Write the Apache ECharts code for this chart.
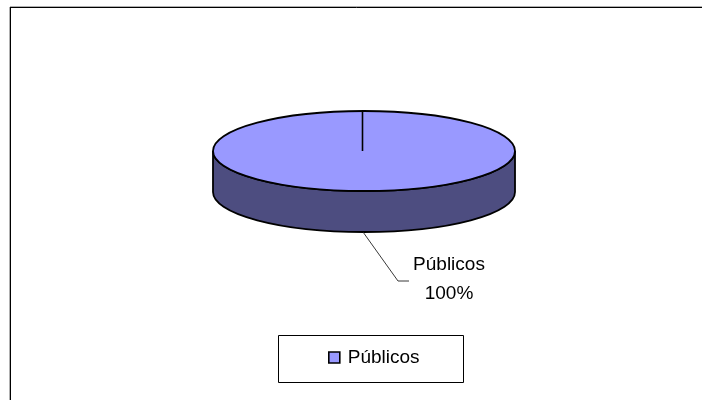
<!DOCTYPE html>
<html><head><meta charset="utf-8">
<style>html,body{margin:0;padding:0;background:#fff}#c{width:702px;height:400px}</style>
<script src="https://cdn.jsdelivr.net/npm/echarts@6/dist/echarts.min.js"></script>
</head><body><div id="c"></div>
<script>
const categories = ['Públicos'];
const values = [100];
const sliceColors = ['#9999ff'];
const sideColors = ['#4d4d80'];
const FONT = '"Liberation Sans", Arial, sans-serif';
const total = values.reduce((a, b) => a + b, 0);
const chart = echarts.init(document.getElementById('c'), null, {renderer: 'canvas'});
const cx = 364, cy = 151, rx = 151, ry = 40, depth = 41;

const sidePath = `M${cx - rx} ${cy}L${cx - rx} ${cy + depth}A${rx} ${ry} 0 0 0 ${cx + rx} ${cy + depth}L${cx + rx} ${cy}A${rx} ${ry} 0 0 1 ${cx - rx} ${cy}Z`;
const topPath = `M${cx - rx} ${cy}A${rx} ${ry} 0 0 1 ${cx + rx} ${cy}A${rx} ${ry} 0 0 1 ${cx - rx} ${cy}Z`;

chart.setOption({
  animation: false,
  backgroundColor: '#ffffff',
  legend: {
    left: 328, top: 348,
    padding: 0,
    itemWidth: 11, itemHeight: 11, itemGap: 6,
    icon: 'rect',
    data: categories.map((n, i) => ({name: n, itemStyle: {color: sliceColors[i], borderColor: '#000', borderWidth: 1.6}})),
    textStyle: {fontFamily: FONT, fontSize: 19, color: '#000', padding: [0, 0, 0, 3]}
  },
  graphic: [
    {type: 'line', silent: true, z: -1, shape: {x1: 10, y1: 6.5, x2: 702, y2: 6.5}, style: {stroke: '#b0b0b0', lineWidth: 1}},
    {type: 'line', silent: true, z: -1, shape: {x1: 10.5, y1: 7.5, x2: 702, y2: 7.5}, style: {stroke: '#000', lineWidth: 1}},
    {type: 'line', silent: true, z: -1, shape: {x1: 9.5, y1: 7, x2: 9.5, y2: 400}, style: {stroke: '#b0b0b0', lineWidth: 1}},
    {type: 'line', silent: true, z: -1, shape: {x1: 10.5, y1: 7, x2: 10.5, y2: 400}, style: {stroke: '#000', lineWidth: 1}},
    {type: 'rect', silent: true, z: -1, shape: {x: 278.5, y: 335.5, width: 185, height: 47}, style: {fill: '#fff', stroke: '#000', lineWidth: 1}}
  ],
  series: [{
    type: 'custom',
    name: categories[0],
    coordinateSystem: 'none',
    data: categories.map((n, i) => ({name: n, value: values[i], itemStyle: {color: sliceColors[i]}})),
    renderItem(params, api) {
      const i = params.dataIndex;
      const frac = api.value(0) / total;
      return {
        type: 'group',
        children: [
          {type: 'path', shape: {pathData: sidePath, layout: 'cover', x: cx - rx, y: cy, width: 2 * rx, height: ry + depth},
           style: {fill: sideColors[i], stroke: '#000', lineWidth: 1.8}},
          {type: 'path', shape: {pathData: topPath, layout: 'cover', x: cx - rx, y: cy - ry, width: 2 * rx, height: 2 * ry},
           style: {fill: sliceColors[i], stroke: '#000', lineWidth: 1.8}},
          {type: 'line', shape: {x1: cx - 1.5, y1: cy - ry, x2: cx - 1.5, y2: cy}, style: {stroke: '#000', lineWidth: 1.6}},
          {type: 'polyline', shape: {points: [[363, 232], [398, 281], [409, 281]]}, style: {fill: 'none', stroke: '#222', lineWidth: 0.9}},
          {type: 'text', style: {x: 449, y: 265, text: categories[i], align: 'center', verticalAlign: 'middle', font: '19px ' + FONT, fill: '#000'}},
          {type: 'text', style: {x: 449, y: 294, text: Math.round(frac * 100) + '%', align: 'center', verticalAlign: 'middle', font: '19px ' + FONT, fill: '#000'}}
        ]
      };
    }
  }]
});
</script></body></html>
